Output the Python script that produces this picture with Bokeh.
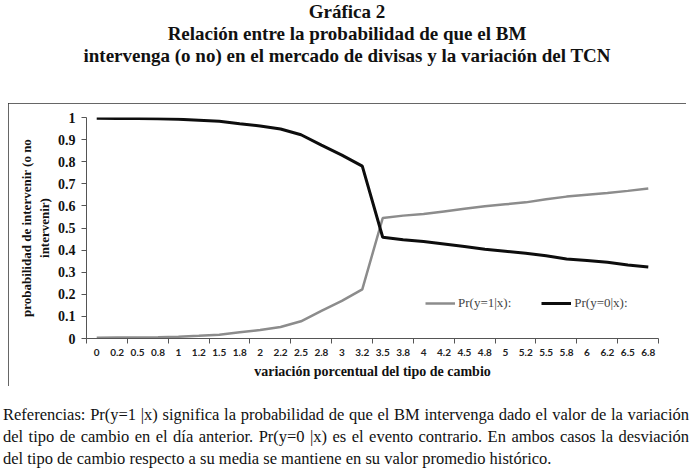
from bokeh.plotting import figure
from bokeh.layouts import column
from bokeh.models import (Range1d, FixedTicker, Legend, LegendItem, Div, InlineStyleSheet)
from bokeh.embed import file_html
from bokeh.resources import INLINE

# ---------------- data ----------------
categories = ["0", "0.2", "0.5", "0.8", "1", "1.2", "1.5", "1.8", "2", "2.2", "2.5", "2.8",
              "3", "3.2", "3.5", "3.8", "4", "4.2", "4.5", "4.8", "5", "5.2", "5.5", "5.8",
              "6", "6.2", "6.5", "6.8"]
pr_y1 = [0.003, 0.004, 0.005, 0.006, 0.008, 0.012, 0.017, 0.028, 0.038, 0.052, 0.078, 0.125,
         0.170, 0.222, 0.545, 0.556, 0.563, 0.575, 0.587, 0.598, 0.607, 0.616, 0.630, 0.642,
         0.650, 0.658, 0.668, 0.679]
pr_y0 = [0.997, 0.996, 0.995, 0.994, 0.992, 0.988, 0.983, 0.972, 0.962, 0.948, 0.922, 0.875,
         0.830, 0.780, 0.458, 0.447, 0.439, 0.428, 0.416, 0.404, 0.395, 0.386, 0.374, 0.360,
         0.353, 0.345, 0.333, 0.324]
y_ticks = [0, 0.1, 0.2, 0.3, 0.4, 0.5, 0.6, 0.7, 0.8, 0.9, 1]
y_tick_labels = ["0", "0.1", "0.2", "0.3", "0.4", "0.5", "0.6", "0.7", "0.8", "0.9", "1"]
series_labels = ["Pr(y=1|x):", "Pr(y=0|x):"]

title_lines = ["Gráfica 2",
               "Relación entre la probabilidad de que el BM",
               "intervenga (o no) en el mercado de divisas y la variación del TCN"]
y_title_lines = ["probabilidad de intervenir (o no", "intervenir)"]
x_title = "variación porcentual del tipo de cambio"
note_lines = ["Referencias: Pr(y=1 |x) significa la probabilidad de que el BM intervenga dado el valor de la variación",
              "del tipo de cambio en el día anterior. Pr(y=0 |x) es el evento contrario. En ambos casos la desviación",
              "del tipo de cambio respecto a su media se mantiene en su valor promedio histórico."]

SERIF = "Liberation Serif"

# ---------------- title block ----------------
title_html = ("<div style=\"width:694px;text-align:center;font-family:'Liberation Serif';"
              "font-weight:bold;font-size:19px;line-height:22px;padding-top:1px;color:#111;\">"
              + "<br>".join(title_lines) + "</div>")
title_div = Div(text=title_html, width=694, height=103, margin=(0, 0, 0, 0))

# ---------------- chart ----------------
W, H = 678, 283
ML, MR, MT, MB = 78, 28, 14, 48
p = figure(width=W, height=H, output_backend="svg", toolbar_location=None, title=None,
           x_range=Range1d(-0.5, len(categories) - 0.5), y_range=Range1d(0, 1),
           min_border_left=ML, min_border_right=MR, min_border_top=MT, min_border_bottom=MB,
           margin=(0, 0, 0, 8))
p.outline_line_color = None
p.xgrid.visible = False
p.ygrid.visible = False
p.background_fill_color = "white"
p.border_fill_color = "white"
p.stylesheets = [InlineStyleSheet(css=":host { outline: 1.5px solid #333333; outline-offset: -1.5px; }")]

xi = list(range(len(categories)))

# x axis
xa = p.xaxis[0]
xa.ticker = FixedTicker(ticks=xi, minor_ticks=[i - 0.5 for i in range(0, len(categories) + 1, 2)])
xa.major_label_overrides = {i: c for i, c in enumerate(categories)}
xa.major_tick_line_color = None
xa.minor_tick_in = 0
xa.minor_tick_out = 5
xa.minor_tick_line_color = "#555555"
xa.axis_line_color = "#555555"
xa.major_label_text_font = "Lato"
xa.major_label_text_font_style = "bold"
xa.major_label_text_font_size = "10px"
xa.major_label_text_color = "#222222"
xa.major_label_standoff = 4
xa.axis_label = x_title
xa.axis_label_text_font = SERIF
xa.axis_label_text_font_style = "bold"
xa.axis_label_text_font_size = "14px"
xa.axis_label_text_color = "#111111"
xa.axis_label_standoff = 5

# y axis
ya = p.yaxis[0]
ya.ticker = FixedTicker(ticks=y_ticks)
ya.major_label_overrides = {t: l for t, l in zip(y_ticks, y_tick_labels)}
ya.major_tick_in = 0
ya.major_tick_out = 5
ya.minor_tick_line_color = None
ya.major_tick_line_color = "#555555"
ya.axis_line_color = "#555555"
ya.major_label_text_font = SERIF
ya.major_label_text_font_style = "bold"
ya.major_label_text_font_size = "14px"
ya.major_label_text_color = "#111111"
ya.major_label_standoff = 6
ya.axis_label = "\n".join(y_title_lines)
ya.axis_label_text_font = SERIF
ya.axis_label_text_font_style = "bold"
ya.axis_label_text_font_size = "13px"
ya.axis_label_text_color = "#111111"
ya.axis_label_text_align = "center"
ya.axis_label_text_line_height = 1.2
ya.axis_label_standoff = 3

# lines
r1 = p.line(xi, pr_y1, line_color="#8c8c8c", line_width=2.5)
r0 = p.line(xi, pr_y0, line_color="#0d0d0d", line_width=3)

legend = Legend(items=[LegendItem(label=series_labels[0], renderers=[r1]),
                       LegendItem(label=series_labels[1], renderers=[r0])],
                orientation="horizontal", location=(339, 27),
                border_line_color=None, background_fill_alpha=0,
                padding=0, margin=0, spacing=30, glyph_width=30, glyph_height=14,
                label_standoff=3, label_text_font=SERIF, label_text_font_size="13px",
                label_text_color="#444444")
p.add_layout(legend)

# ---------------- footnote ----------------
line_style = ("white-space:nowrap;height:22px;line-height:22px;font-family:'Liberation Serif';"
              "font-size:16.5px;color:#111;")
foot_html = "<div style=\"width:689px;padding-left:3px;padding-top:18px;\">"
for k, ln in enumerate(note_lines):
    just = "text-align:justify;text-align-last:justify;" if k < 2 else "text-align:left;"
    foot_html += "<div style=\"" + line_style + just + "\">" + ln + "</div>"
foot_html += "</div>"
foot_div = Div(text=foot_html, width=694, height=88, margin=(0, 0, 0, 0))

layout = column(title_div, p, foot_div, spacing=0)

open("out.html", "w").write(file_html(layout, INLINE))
